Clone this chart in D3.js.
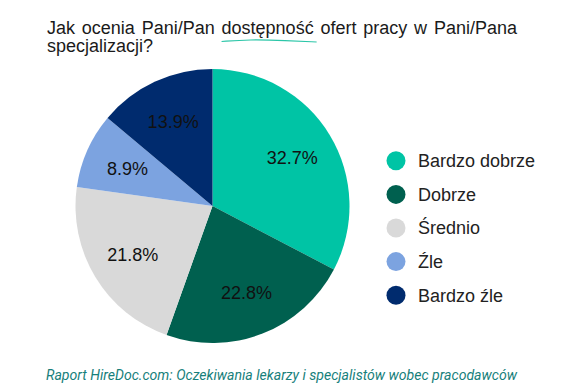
<!DOCTYPE html>
<html>
<head>
<meta charset="utf-8">
<script src="https://cdn.jsdelivr.net/npm/d3@7"></script>
<style>
  body { margin: 0; background: #fff; }
</style>
</head>
<body>
<svg id="chart" width="575" height="388"></svg>
<script>
// data
const categories = ["Bardzo dobrze", "Dobrze", "Średnio", "Źle", "Bardzo źle"];
const shares = [32.7, 22.8, 21.8, 8.9, 13.9];
const colors = ["#00c4a5", "#00604f", "#d9d9d9", "#7ca3e0", "#002b6e"];
const titleLines = ["Jak ocenia Pani/Pan ", "dostępność", " ofert pracy w Pani/Pana"];
const titleLine2 = "specjalizacji?";
const source = "Raport HireDoc.com: Oczekiwania lekarzy i specjalistów wobec pracodawców";

const svg = d3.select("#chart");
const cx = 212.5, cy = 206, radius = 137;

const rows = categories.map((c, i) => ({ name: c, value: shares[i], color: colors[i] }));

// title (first line is justified in the original)
const title = svg.append("text")
    .attr("x", 47)
    .attr("y", 34)
    .attr("font-family", "Liberation Sans, Arial, sans-serif")
    .attr("font-size", 18)
    .attr("fill", "#1a1a1a");
title.selectAll("tspan")
    .data(titleLines)
    .enter().append("tspan")
    .text(d => d);
const tnode = title.node();
const spaces = titleLines.join("").split(" ").length - 1;
const natural = tnode.getComputedTextLength();
title.attr("word-spacing", Math.max(0, (470 - natural) / spaces));

svg.append("text")
    .attr("x", 47)
    .attr("y", 52)
    .attr("font-family", "Liberation Sans, Arial, sans-serif")
    .attr("font-size", 18)
    .attr("fill", "#1a1a1a")
    .text(titleLine2);

// squiggle under "dostępność"
const start = titleLines[0].length;
const ux0 = tnode.getStartPositionOfChar(start).x;
const ux1 = tnode.getEndPositionOfChar(start + titleLines[1].length - 1).x;
const uw = ux1 - ux0;
const squiggle = d3.line().curve(d3.curveBasis);
svg.append("path")
    .attr("d", squiggle([[ux0, 41.5], [ux0 + uw * 0.3, 39.5], [ux0 + uw * 0.7, 40.5], [ux1 + 3, 42]]))
    .attr("fill", "none")
    .attr("stroke", "#2cc6a8")
    .attr("stroke-width", 1.2);

// pie
const pie = d3.pie().value(d => d.value).sort(null);
const arc = d3.arc().innerRadius(0).outerRadius(radius);
const labelArc = d3.arc().innerRadius(radius * 0.68).outerRadius(radius * 0.68);

const g = svg.append("g").attr("transform", `translate(${cx},${cy})`);
const arcs = pie(rows);

g.selectAll("path")
    .data(arcs)
    .enter().append("path")
    .attr("d", arc)
    .attr("fill", d => d.data.color);

g.selectAll("text")
    .data(arcs)
    .enter().append("text")
    .attr("transform", d => `translate(${labelArc.centroid(d)})`)
    .attr("text-anchor", "middle")
    .attr("dy", "0.36em")
    .attr("font-family", "Liberation Sans, Arial, sans-serif")
    .attr("font-size", 18)
    .attr("fill", "#111")
    .text(d => d.data.value.toFixed(1) + "%");

// legend
const ly = d3.scaleBand().domain(categories).range([144, 312]);
const legend = svg.append("g").selectAll("g")
    .data(rows)
    .enter().append("g")
    .attr("transform", d => `translate(396,${ly(d.name) + ly.bandwidth() / 2})`);
legend.append("circle")
    .attr("r", 9.5)
    .attr("fill", d => d.color);
legend.append("text")
    .attr("x", 22)
    .attr("dy", "0.36em")
    .attr("font-family", "Liberation Sans, Arial, sans-serif")
    .attr("font-size", 18)
    .attr("fill", "#222")
    .text(d => d.name);

// source
svg.append("text")
    .attr("x", 46)
    .attr("y", 380)
    .attr("font-family", "Roboto, sans-serif")
    .attr("font-style", "italic")
    .attr("font-size", 14.5)
    .attr("textLength", 471)
    .attr("lengthAdjust", "spacingAndGlyphs")
    .attr("fill", "#17807b")
    .text(source);
</script>
</body>
</html>
